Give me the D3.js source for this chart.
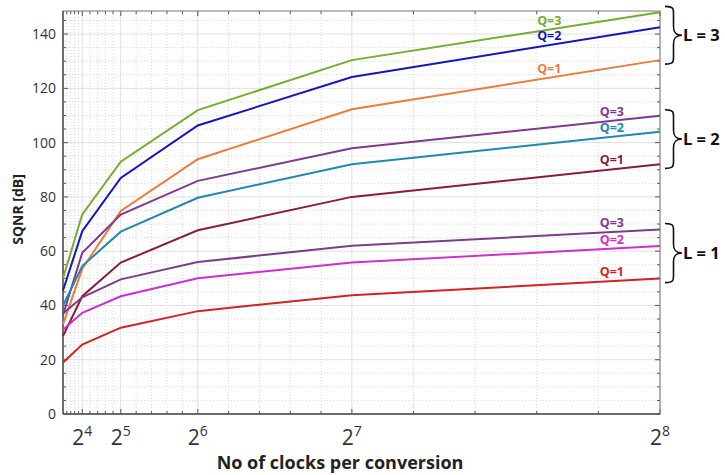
<!DOCTYPE html>
<html>
<head>
<meta charset="utf-8">
<script src="https://cdn.jsdelivr.net/npm/d3@7"></script>
<style>
  body { margin: 0; background: #fff; }
  svg { display: block; font-family: "Open Sans", sans-serif; }
</style>
</head>
<body>
<script>
// clocks per conversion (x) and SQNR in dB for each order L and quantizer Q
const clocks = [8, 16, 32, 64, 128, 256];
const xTickExps = [4, 5, 6, 7, 8];
const yTicks = [0, 20, 40, 60, 80, 100, 120, 140];

const sqnrL3Q3 = [50, 73.5, 93, 112, 130.4, 148];
const sqnrL3Q2 = [45.5, 67.4, 87, 106.3, 124.2, 142.5];
const sqnrL3Q1 = [33, 53.5, 74.8, 93.9, 112.3, 130.4];
const sqnrL2Q3 = [36.5, 59.4, 73.5, 85.9, 97.9, 109.9];
const sqnrL2Q2 = [40, 54.5, 67.2, 79.7, 92, 104];
const sqnrL2Q1 = [28.7, 43.4, 55.8, 67.7, 80, 92];
const sqnrL1Q3 = [37, 43, 49.6, 56, 62, 68];
const sqnrL1Q2 = [31, 37.3, 43.4, 50, 55.8, 61.9];
const sqnrL1Q1 = [19, 25.6, 31.8, 37.9, 43.8, 49.9];

const series = [
  { L: 3, Q: 3, values: sqnrL3Q3, color: "#77ac30" },
  { L: 3, Q: 2, values: sqnrL3Q2, color: "#1515c0" },
  { L: 3, Q: 1, values: sqnrL3Q1, color: "#ec7b3c" },
  { L: 2, Q: 3, values: sqnrL2Q3, color: "#7e3a8e" },
  { L: 2, Q: 2, values: sqnrL2Q2, color: "#2188ae" },
  { L: 2, Q: 1, values: sqnrL2Q1, color: "#8a1c3c" },
  { L: 1, Q: 3, values: sqnrL1Q3, color: "#7b3d88" },
  { L: 1, Q: 2, values: sqnrL1Q2, color: "#cf2ecf" },
  { L: 1, Q: 1, values: sqnrL1Q1, color: "#d42222" },
];

const W = 725, H = 475;
const m = { left: 63, right: 65, top: 11, bottom: 61 };

const svg = d3.select("body").append("svg")
  .attr("width", W)
  .attr("height", H);

const x = d3.scaleLinear().domain([8, 256]).range([m.left, W - m.right]);
const y = d3.scaleLinear().domain([0, 148.5]).range([H - m.bottom, m.top]);

// minor ticks: 5 steps per octave
const xMinor = [];
clocks.slice(0, -1).forEach(a => {
  for (let k = 1; k < 5; k++) xMinor.push(a + k * a / 5);
});
const xMajor = xTickExps.map(e => Math.pow(2, e));
const yMinor = d3.range(0, 148.5, 5).filter(v => v % 20 !== 0);

const grid = svg.append("g");
grid.selectAll(".xmin").data(xMinor).enter().append("line")
  .attr("x1", d => x(d)).attr("x2", d => x(d))
  .attr("y1", y(0)).attr("y2", y(148.5))
  .attr("stroke", "#d8d8d8").attr("stroke-dasharray", "1,2");
grid.selectAll(".ymin").data(yMinor).enter().append("line")
  .attr("x1", x(8)).attr("x2", x(256))
  .attr("y1", d => y(d)).attr("y2", d => y(d))
  .attr("stroke", "#d8d8d8").attr("stroke-dasharray", "1,2");
grid.selectAll(".xmaj").data(xMajor).enter().append("line")
  .attr("x1", d => x(d)).attr("x2", d => x(d))
  .attr("y1", y(0)).attr("y2", y(148.5))
  .attr("stroke", "#e0e0e0");
grid.selectAll(".ymaj").data(yTicks).enter().append("line")
  .attr("x1", x(8)).attr("x2", x(256))
  .attr("y1", d => y(d)).attr("y2", d => y(d))
  .attr("stroke", "#e0e0e0");

// ticks on all four sides, pointing inward
const ticks = svg.append("g").attr("stroke", "#555");
[[xMajor, 5], [xMinor, 3]].forEach(([vals, len]) => {
  vals.forEach(v => {
    ticks.append("line").attr("x1", x(v)).attr("x2", x(v))
      .attr("y1", y(0)).attr("y2", y(0) - len);
    ticks.append("line").attr("x1", x(v)).attr("x2", x(v))
      .attr("y1", y(148.5)).attr("y2", y(148.5) + len);
  });
});
[[yTicks, 5], [yMinor, 3]].forEach(([vals, len]) => {
  vals.forEach(v => {
    ticks.append("line").attr("x1", x(8)).attr("x2", x(8) + len)
      .attr("y1", y(v)).attr("y2", y(v));
    ticks.append("line").attr("x1", x(256)).attr("x2", x(256) - len)
      .attr("y1", y(v)).attr("y2", y(v));
  });
});

svg.append("rect")
  .attr("x", x(8)).attr("y", y(148.5))
  .attr("width", x(256) - x(8)).attr("height", y(0) - y(148.5))
  .attr("fill", "none").attr("stroke", "#777").attr("stroke-width", 1);
svg.append("line").attr("x1", x(8)).attr("x2", x(8))
  .attr("y1", y(0)).attr("y2", y(148.5)).attr("stroke", "#555").attr("stroke-width", 1.5);
svg.append("line").attr("x1", x(8)).attr("x2", x(256))
  .attr("y1", y(0)).attr("y2", y(0)).attr("stroke", "#555").attr("stroke-width", 1.5);

// y tick labels
svg.append("g").selectAll("text").data(yTicks).enter().append("text")
  .attr("x", x(8) - 7).attr("y", d => y(d)).attr("dy", "0.36em")
  .attr("text-anchor", "end").attr("font-size", 14).attr("fill", "#333")
  .text(d => d);

// x tick labels as powers of two
const xl = svg.append("g").selectAll("text").data(xTickExps).enter().append("text")
  .attr("x", d => x(Math.pow(2, d)))
  .attr("y", 445).attr("text-anchor", "middle")
  .attr("fill", "#333").attr("font-size", 21);
xl.append("tspan").text("2");
xl.append("tspan").attr("font-size", 14).attr("dy", -9).text(d => d);

svg.append("text")
  .attr("x", 340).attr("y", 469).attr("text-anchor", "middle")
  .attr("font-size", 18).attr("font-weight", "bold").attr("fill", "#222")
  .text("No of clocks per conversion");

svg.append("text")
  .attr("transform", `translate(23,${(y(0) + y(148.5)) / 2 - 3}) rotate(-90)`)
  .attr("text-anchor", "middle").attr("font-size", 14)
  .attr("font-weight", "bold").attr("fill", "#222")
  .text("SQNR [dB]");

// lines
const line = d3.line().x((d, i) => x(clocks[i])).y(d => y(d));
svg.append("g").selectAll("path").data(series).enter().append("path")
  .attr("d", d => line(d.values))
  .attr("fill", "none").attr("stroke", d => d.color).attr("stroke-width", 2);

// Q labels placed just above each line
const labelX = { 3: 210, 2: 236, 1: 236 };
const interp = (vals, c) => {
  const i = d3.bisectRight(clocks, c) - 1;
  const t = (c - clocks[i]) / (clocks[i + 1] - clocks[i]);
  return vals[i] + t * (vals[i + 1] - vals[i]);
};
svg.append("g").selectAll("text").data(series).enter().append("text")
  .attr("x", d => x(labelX[d.L]))
  .attr("y", d => y(interp(d.values, labelX[d.L])) - 5)
  .attr("text-anchor", "middle").attr("font-size", 12.5).attr("font-weight", "bold")
  .attr("fill", d => d.color)
  .text(d => `Q=${d.Q}`);

// braces grouping each L
const groups = [3, 2, 1].map(L => {
  const s = series.filter(d => d.L === L);
  const top = d3.max(s, d => d.values[d.values.length - 1]);
  const bot = d3.min(s, d => d.values[d.values.length - 1]);
  return { L, top: y(top) - 6, bot: y(bot) + 4 };
});
const brace = (x0, y0, y1, w) => {
  const mid = (y0 + y1) / 2;
  const xm = x0 + w / 2;
  return `M${x0},${y0} C${xm + 1},${y0} ${xm},${y0 + 3} ${xm},${y0 + 9}` +
    ` L${xm},${mid - 9} C${xm},${mid - 2} ${xm + 3},${mid} ${x0 + w},${mid}` +
    ` C${xm + 3},${mid} ${xm},${mid + 2} ${xm},${mid + 9}` +
    ` L${xm},${y1 - 9} C${xm},${y1 - 3} ${xm + 1},${y1} ${x0},${y1}`;
};
const bg = svg.append("g").selectAll("g").data(groups).enter().append("g");
bg.append("path")
  .attr("d", d => brace(665, d.top, d.bot, 17))
  .attr("fill", "none").attr("stroke", "#111").attr("stroke-width", 1.6);
bg.append("text")
  .attr("x", 683).attr("y", d => (d.top + d.bot) / 2).attr("dy", "0.36em")
  .attr("font-size", 16.5).attr("font-weight", "bold").attr("fill", "#111")
  .text(d => `L = ${d.L}`);
</script>
</body>
</html>
